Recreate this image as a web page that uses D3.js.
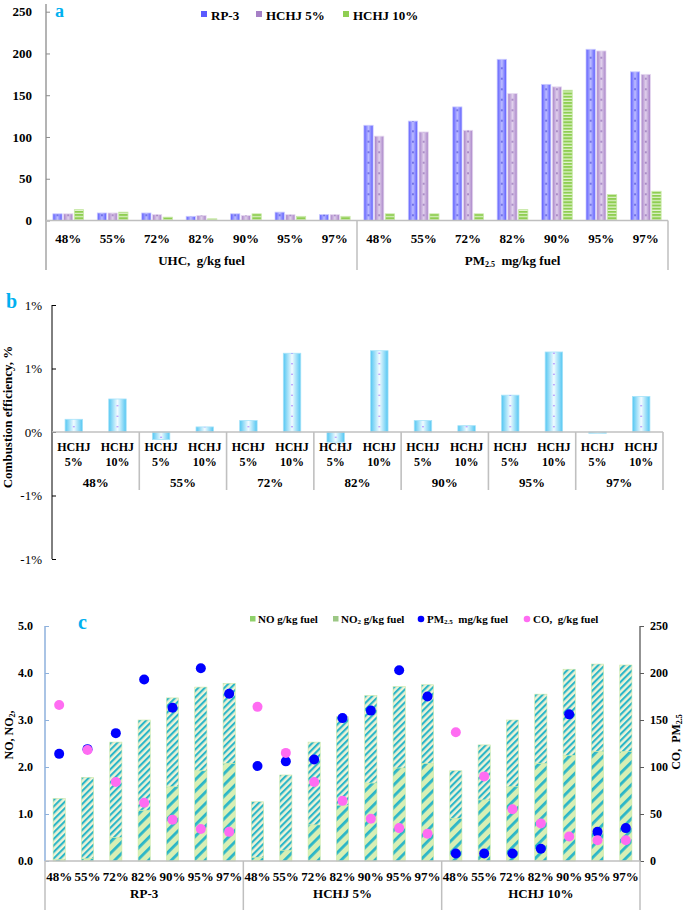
<!DOCTYPE html>
<html><head><meta charset="utf-8">
<script src="https://cdn.jsdelivr.net/npm/d3@7"></script>
<style>body{margin:0;background:#fff}svg{display:block}</style>
</head><body><svg id="c" width="685" height="910" font-family="'Liberation Serif', 'Times New Roman', serif"></svg>
<script>
// ---------- DATA ----------
const loads = ["48%","55%","72%","82%","90%","95%","97%"];
const seriesA = ["RP-3","HCHJ 5%","HCHJ 10%"];
const uhcRP3 = [8,9,9,5,8,10,7];
const uhcH5  = [8,9,7,6,6,7,7];
const uhcH10 = [13,10,4,2,8,5,5];
const pmRP3 = [114,119,136,193,163,205,178];
const pmH5  = [101,106,108,152,160,203,175];
const pmH10 = [8,8,8,13,156,31,35];
const ticksA = [0,50,100,150,200,250];

const subB = ["HCHJ 5%","HCHJ 10%"];
const ceH5  = [0.10,-0.06,0.09,-0.08,0.09,0.29,-0.01];
const ceH10 = [0.26,0.04,0.62,0.64,0.05,0.63,0.28];
const ticksB = [-1,-0.5,0,0.5,1];
const tickLabelsB = ["-1%","-1%","0%","1%","1%"];

const fuelsC = ["RP-3","HCHJ 5%","HCHJ 10%"];
const noRP3 = [0.03,0.05,0.50,1.08,1.58,1.92,2.08];
const no2RP3 = [1.30,1.73,2.03,1.92,1.89,1.78,1.70];
const noH5 = [0.08,0.23,0.77,1.19,1.66,1.98,2.08];
const no2H5 = [1.18,1.60,1.76,1.88,1.86,1.73,1.67];
const noH10 = [0.91,1.30,1.58,2.08,2.25,2.33,2.33];
const no2H10 = [1.01,1.17,1.42,1.47,1.83,1.86,1.84];
const coRP3 = [166,118,84,62,44,34,31];
const coH5  = [164,115,84,64,45,35,29];
const coH10 = [137,90,55,40,26,22,22];
const ticksCL = [0,1,2,3,4,5];
const ticksCR = [0,50,100,150,200,250];

// ---------- SETUP ----------
const svg = d3.select("#c");
const defs = svg.append("defs");
const BLUE = "#00b0f0";

function hGrad(id, edge, mid){
  const g = defs.append("linearGradient").attr("id",id).attr("x1",0).attr("x2",1).attr("y1",0).attr("y2",0);
  g.append("stop").attr("offset","0%").attr("stop-color",edge);
  g.append("stop").attr("offset","50%").attr("stop-color",mid);
  g.append("stop").attr("offset","100%").attr("stop-color",edge);
}
function dotPat(id, w, h, color, r){
  const p = defs.append("pattern").attr("id",id).attr("patternUnits","userSpaceOnUse").attr("width",w).attr("height",h);
  p.append("circle").attr("cx",w*0.5).attr("cy",h*0.25).attr("r",r).attr("fill",color);
  p.append("circle").attr("cx",w*0.5).attr("cy",h*0.75).attr("r",r).attr("fill",color);
}
function stripePat(id, size, stripeW, bg, fg){
  const p = defs.append("pattern").attr("id",id).attr("patternUnits","userSpaceOnUse")
    .attr("width",size).attr("height",size).attr("patternTransform","rotate(45)");
  p.append("rect").attr("width",size).attr("height",size).attr("fill",bg);
  p.append("rect").attr("width",stripeW).attr("height",size).attr("fill",fg);
}
hGrad("gBlue","#5a5aff","#bcbcff");
hGrad("gPurp","#a680c6","#e0d0ec");
hGrad("gCyan","#52c6f2","#f2fbff");
const gh = defs.append("pattern").attr("id","gGreen").attr("patternUnits","userSpaceOnUse").attr("width",4).attr("height",3.2);
gh.append("rect").attr("width",4).attr("height",3.2).attr("fill","#8fce52");
gh.append("rect").attr("y",2).attr("width",4).attr("height",1.2).attr("fill","#e2f3cf");
stripePat("pNO", 8, 2.8, "#d8efb4", "#2bb6c8");
stripePat("pNO2", 4.6, 2.1, "#eef3d6", "#2bb6c8");

function label(txt, x, y, size){
  svg.append("text").attr("x",x).attr("y",y).attr("fill",BLUE).attr("font-size",size||20).attr("font-weight","bold").text(txt);
}
function styleAxis(ax, size, weight){
  ax.attr("font-family",null).attr("font-size",null);
  ax.selectAll("text").attr("font-size",size).attr("font-weight",weight).attr("fill","#000");
}

// ---------- PANEL A ----------
{
  const yA = d3.scaleLinear().domain([0,250]).range([220.5, 11.7]);
  const xA = d3.scaleBand().domain(d3.range(14)).range([46,668]).paddingInner(0.31).paddingOuter(0.155);
  const xs = d3.scaleBand().domain(seriesA).range([0,xA.bandwidth()]).paddingInner(0.14);
  const groups = [[uhcRP3,uhcH5,uhcH10],[pmRP3,pmH5,pmH10]];
  const rows = [];
  groups.forEach((g,gi)=>g.forEach((arr,si)=>arr.forEach((v,ci)=>rows.push({i:gi*7+ci, s:seriesA[si], si, v}))));
  const fills = [["url(#gBlue)","url(#dBlue)","#c9c9ff"],["url(#gPurp)","url(#dPurp)","#e6d9f0"],["url(#gGreen)",null,"#c6e8a4"]];
  dotPat("dBlue", xs.bandwidth(), 21, "#1c1cc8", 0.75);
  dotPat("dPurp", xs.bandwidth(), 21, "#6a3a9a", 0.75);
  const bars = svg.append("g").selectAll("g").data(rows).join("g")
    .attr("transform", d=>`translate(${xA(d.i)+xs(d.s)},${yA(0)})`);
  bars.append("rect").attr("x",0).attr("y",d=>yA(d.v)-yA(0)).attr("width",xs.bandwidth()).attr("height",d=>yA(0)-yA(d.v))
    .attr("fill",d=>fills[d.si][0]).attr("stroke",d=>fills[d.si][2]).attr("stroke-width",0.8);
  bars.filter(d=>d.si<2).append("rect").attr("x",0).attr("y",d=>yA(d.v)-yA(0)).attr("width",xs.bandwidth()).attr("height",d=>yA(0)-yA(d.v))
    .attr("fill",d=>fills[d.si][1]);
  svg.append("line").attr("x1",46).attr("x2",46).attr("y1",4).attr("y2",270).attr("stroke","#8c8c8c").attr("stroke-width",1.3);
  const ax = svg.append("g").attr("transform","translate(46,0)")
    .call(d3.axisLeft(yA).tickValues(ticksA).tickSize(-4).tickPadding(14));
  ax.select(".domain").remove();
  ax.selectAll("line").attr("stroke","#8c8c8c");
  styleAxis(ax, 13, "bold");
  svg.append("line").attr("x1",46).attr("x2",668).attr("y1",yA(0)).attr("y2",yA(0)).attr("stroke","#bfbfbf").attr("stroke-width",1.5);
  const sepA = xA(7)-xA.step()*0.155;
  [46, sepA, 668].forEach(x=>{
    svg.append("line").attr("x1",x).attr("x2",x).attr("y1",yA(0)).attr("y2",270).attr("stroke","#bfbfbf").attr("stroke-width",1.5);
  });
  svg.append("g").selectAll("text").data(d3.range(14)).join("text")
    .attr("x",i=>xA(i)+xA.bandwidth()/2).attr("y",243).attr("text-anchor","middle").attr("font-size",13).attr("font-weight","bold")
    .text(i=>loads[i%7]);
  const gmid = (a,b)=>(a+b)/2;
  svg.append("text").attr("x",gmid(46,sepA)).attr("y",265).attr("text-anchor","middle").attr("font-size",13).attr("font-weight","bold")
    .attr("xml:space","preserve").text("UHC,  g/kg fuel");
  const t = svg.append("text").attr("x",gmid(sepA,668)).attr("y",265).attr("text-anchor","middle").attr("font-size",13).attr("font-weight","bold").attr("xml:space","preserve");
  t.append("tspan").text("PM");
  t.append("tspan").attr("font-size",8).attr("dy",2).text("2.5");
  t.append("tspan").attr("dy",-2).text("  mg/kg fuel");
  const legX = [201,256,343], legC = ["#5a5aff","#a680c6","#8fce52"];
  seriesA.forEach((s,i)=>{
    svg.append("rect").attr("x",legX[i]).attr("y",11).attr("width",6).attr("height",6).attr("fill",legC[i]);
    svg.append("text").attr("x",legX[i]+10).attr("y",20).attr("font-size",13).attr("font-weight","bold").text(s);
  });
  label("a",55,17,18);
}

// ---------- PANEL B ----------
{
  const yB = d3.scaleLinear().domain([-1,1]).range([559,305]);
  const xB = d3.scaleBand().domain(d3.range(14)).range([52,663]).paddingInner(0.6).paddingOuter(0.3);
  const rows = [];
  loads.forEach((l,ci)=>{ rows.push({i:ci*2, v:ceH5[ci]}); rows.push({i:ci*2+1, v:ceH10[ci]}); });
  const bw = xB.bandwidth();
  dotPat("dCyan", bw, 21, "#9a66ff", 0.7);
  const bars = svg.append("g").selectAll("g").data(rows).join("g")
    .attr("transform", d=>`translate(${xB(d.i)},${yB(0)})`);
  const y = d=>Math.min(yB(d.v),yB(0))-yB(0), h = d=>Math.abs(yB(d.v)-yB(0));
  bars.append("rect").attr("x",0).attr("y",y).attr("width",bw).attr("height",h).attr("fill","url(#gCyan)").attr("stroke","#a6e3f9").attr("stroke-width",0.8);
  bars.append("rect").attr("x",0).attr("y",y).attr("width",bw).attr("height",h).attr("fill","url(#dCyan)");
  const ax = svg.append("g").attr("transform","translate(52,0)")
    .call(d3.axisLeft(yB).tickValues(ticksB).tickSize(-4).tickPadding(10).tickFormat((d,i)=>tickLabelsB[i]));
  ax.select(".domain").attr("stroke","#000").attr("d","M0,305V559");
  ax.selectAll("line").attr("stroke","#000");
  styleAxis(ax, 13, "normal");
  const step = (663-52)/7;
  svg.append("line").attr("x1",52).attr("x2",663).attr("y1",yB(0)).attr("y2",yB(0)).attr("stroke","#c0c0c0").attr("stroke-width",1.6);
  d3.range(1,8).forEach(k=>{
    svg.append("line").attr("x1",52+k*step).attr("x2",52+k*step).attr("y1",yB(0)).attr("y2",490).attr("stroke","#c0c0c0").attr("stroke-width",1.6);
  });
  const lab = svg.append("g").selectAll("text").data(rows).join("text")
    .attr("text-anchor","middle").attr("font-size",12).attr("font-weight","bold");
  lab.append("tspan").attr("x",d=>xB(d.i)+bw/2).attr("y",451).text(d=>subB[d.i%2].split(" ")[0]);
  lab.append("tspan").attr("x",d=>xB(d.i)+bw/2).attr("y",466).text(d=>subB[d.i%2].split(" ")[1]);
  svg.append("g").selectAll("text").data(loads).join("text")
    .attr("x",(d,i)=>52+step*(i+0.5)).attr("y",487).attr("text-anchor","middle").attr("font-size",13).attr("font-weight","bold").text(d=>d);
  svg.append("text").attr("transform","translate(12,417) rotate(-90)").attr("text-anchor","middle").attr("font-size",13).attr("font-weight","bold")
    .text("Combustion efficiency, %");
  label("b",6,308);
}

// ---------- PANEL C ----------
{
  const yL = d3.scaleLinear().domain([0,5]).range([861,626]);
  const yR = d3.scaleLinear().domain([0,250]).range([861,626]);
  const xC = d3.scaleBand().domain(d3.range(21)).range([45,640]).paddingInner(0.57).paddingOuter(0.285);
  const nos = [noRP3,noH5,noH10], no2s = [no2RP3,no2H5,no2H10], pms = [pmRP3,pmH5,pmH10], cos = [coRP3,coH5,coH10];
  const rows = [];
  fuelsC.forEach((f,fi)=>loads.forEach((l,ci)=>rows.push({i:fi*7+ci, NO:nos[fi][ci], NO2:no2s[fi][ci], PM:pms[fi][ci], CO:cos[fi][ci]})));
  const stack = d3.stack().keys(["NO","NO2"])(rows);
  const bw = xC.bandwidth();
  svg.append("g").selectAll("g").data(stack).join("g")
    .attr("fill",d=>d.key==="NO"?"url(#pNO)":"url(#pNO2)")
    .selectAll("rect").data(d=>d).join("rect")
    .attr("x",d=>xC(d.data.i)).attr("width",bw).attr("y",d=>yL(d[1])).attr("height",d=>yL(d[0])-yL(d[1]))
    .attr("stroke","#cde9a8").attr("stroke-width",0.6);
  svg.append("g").selectAll("circle").data(rows).join("circle")
    .attr("cx",d=>xC(d.i)+bw/2).attr("cy",d=>yR(d.PM)).attr("r",5).attr("fill","#0000ff");
  svg.append("g").selectAll("circle").data(rows).join("circle")
    .attr("cx",d=>xC(d.i)+bw/2).attr("cy",d=>yR(d.CO)).attr("r",5).attr("fill","#ff6cf2");
  const axL = svg.append("g").attr("transform","translate(45,0)")
    .call(d3.axisLeft(yL).tickValues(ticksCL).tickSize(-4).tickPadding(12).tickFormat(d3.format(".1f")));
  axL.select(".domain").attr("stroke","#8eb1dc").attr("stroke-width",1.5).attr("d","M0,626V861");
  axL.selectAll("line").attr("stroke","#8eb1dc");
  styleAxis(axL, 12, "bold");
  const axR = svg.append("g").attr("transform","translate(640,0)")
    .call(d3.axisRight(yR).tickValues(ticksCR).tickSize(4).tickPadding(6));
  axR.select(".domain").attr("stroke","#595959").attr("stroke-width",1.3).attr("d","M0,626V861");
  axR.selectAll("line").attr("stroke","#595959");
  styleAxis(axR, 12, "bold");
  svg.append("line").attr("x1",45).attr("x2",640).attr("y1",861).attr("y2",861).attr("stroke","#bfbfbf").attr("stroke-width",1.5);
  const gstep = (640-45)/3;
  d3.range(4).forEach(k=>{
    svg.append("line").attr("x1",45+k*gstep).attr("x2",45+k*gstep).attr("y1",861).attr("y2",910).attr("stroke","#bfbfbf").attr("stroke-width",1.5);
  });
  svg.append("g").selectAll("text").data(rows).join("text")
    .attr("x",d=>xC(d.i)+bw/2).attr("y",881).attr("text-anchor","middle").attr("font-size",13).attr("font-weight","bold")
    .text(d=>loads[d.i%7]);
  svg.append("g").selectAll("text").data(fuelsC).join("text")
    .attr("x",(d,i)=>45+gstep*(i+0.5)).attr("y",898).attr("text-anchor","middle").attr("font-size",13).attr("font-weight","bold").text(d=>d);
  const tl = svg.append("text").attr("transform","translate(13,735) rotate(-90)").attr("text-anchor","middle").attr("font-size",12).attr("font-weight","bold");
  tl.append("tspan").text("NO, NO");
  tl.append("tspan").attr("font-size",8).attr("dy",2).text("2");
  tl.append("tspan").attr("dy",-2).text(",");
  const tr = svg.append("text").attr("transform","translate(680,742) rotate(-90)").attr("text-anchor","middle").attr("font-size",12).attr("font-weight","bold").attr("xml:space","preserve");
  tr.append("tspan").text("CO,  PM");
  tr.append("tspan").attr("font-size",8).attr("dy",2).text("2.5");
  const ly = 623;
  svg.append("rect").attr("x",250).attr("y",616).attr("width",5.5).attr("height",5.5).attr("fill","#8fd16a");
  svg.append("text").attr("x",258).attr("y",ly).attr("font-size",11).attr("font-weight","bold").text("NO g/kg fuel");
  svg.append("rect").attr("x",333).attr("y",616).attr("width",5.5).attr("height",5.5).attr("fill","#9cc785");
  const t2 = svg.append("text").attr("x",341).attr("y",ly).attr("font-size",11).attr("font-weight","bold");
  t2.append("tspan").text("NO");
  t2.append("tspan").attr("font-size",7).attr("dy",1).text("2");
  t2.append("tspan").attr("dy",-1).text(" g/kg fuel");
  svg.append("circle").attr("cx",421).attr("cy",619).attr("r",3.3).attr("fill","#0000ff");
  const t3 = svg.append("text").attr("x",427).attr("y",ly).attr("font-size",11).attr("font-weight","bold").attr("xml:space","preserve");
  t3.append("tspan").text("PM");
  t3.append("tspan").attr("font-size",7).attr("dy",1).text("2.5");
  t3.append("tspan").attr("dy",-1).text("  mg/kg fuel");
  svg.append("circle").attr("cx",527).attr("cy",619).attr("r",3.3).attr("fill","#ff6cf2");
  svg.append("text").attr("x",533).attr("y",ly).attr("font-size",11).attr("font-weight","bold").attr("xml:space","preserve").text("CO,  g/kg fuel");
  label("c",78,629);
}
</script></body></html>
